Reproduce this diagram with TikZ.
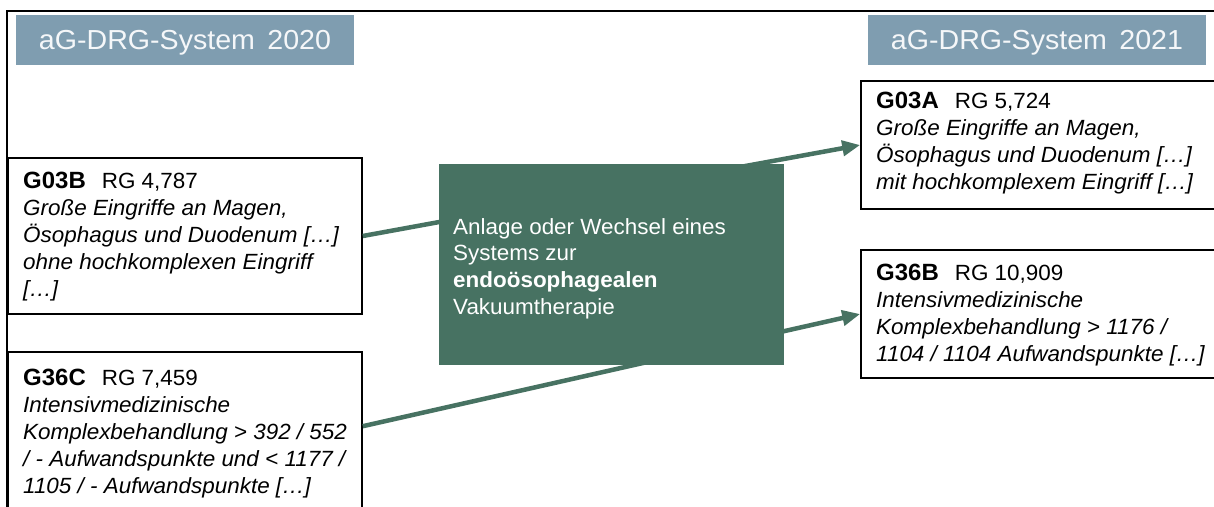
\documentclass[tikz,border=0pt]{standalone}
\usepackage{fontspec}
\setmainfont[FakeStretch=1.02]{Liberation Sans}
\newfontfamily\hdrfont[FakeStretch=1.04]{Liberation Sans}
\usetikzlibrary{arrows.meta,calc}
\definecolor{hdr}{RGB}{127,157,176}
\definecolor{grn}{RGB}{71,114,98}
\definecolor{hdrtxt}{RGB}{245,247,249}
\newcommand{\code}[1]{{\fontsize{23.5}{27}\selectfont\bfseries #1}}
\begin{document}
\begin{tikzpicture}[x=1pt,y=-1pt,
  box/.style={draw=black, line width=1.6pt, fill=white, inner sep=0pt},
  hdrbox/.style={fill=hdr, inner sep=0pt, text=hdrtxt, minimum width=338pt, minimum height=50pt,
    text height=24pt, text depth=6pt, font=\hdrfont\fontsize{27.5}{30}\selectfont},
  txt/.style={anchor=north west, inner sep=0pt, align=left, font=\fontsize{22}{27}\selectfont\itshape},
  midtxt/.style={anchor=north west, inner sep=0pt, align=left, text=white, font=\fontsize{22}{26.7}\selectfont},
  arr/.style={draw=grn, line width=4.5pt, -{Triangle[length=18pt,width=15pt]}},
]
\useasboundingbox (0,0) rectangle (1214,506);
\clip (0,0) rectangle (1214,506);
\fill[white] (0,0) rectangle (1214,506);
% outer frame
\draw[line width=1.6pt] (7,530) -- (7,11) -- (1230,11);
% headers
\node[hdrbox] (h1) at (185,40) {aG-DRG-System\hspace{0.45em}2020};
\node[hdrbox] (h2) at (1037,40) {aG-DRG-System\hspace{0.45em}2021};
% left boxes
\node[box, minimum width=354pt, minimum height=156pt] (g03b) at (185,236) {};
\node[txt] (g03bt) at (23,168) {\rule{0pt}{20pt}{\upshape\code{G03B}\hspace{16pt}RG 4,787}\\
Große Eingriffe an Magen,\\
Ösophagus und Duodenum […]\\
ohne hochkomplexen Eingriff\\
{[}…]};
\node[box, minimum width=354pt, minimum height=178pt] (g36c) at (185,441) {};
\node[txt] (g36ct) at (23,365) {\rule{0pt}{20pt}{\upshape\code{G36C}\hspace{16pt}RG 7,459}\\
Intensivmedizinische\\
Komplexbehandlung > 392 / 552\\
/ - Aufwandspunkte und < 1177 /\\
1105 / - Aufwandspunkte […]};
% right boxes
\node[box, minimum width=369pt, minimum height=128pt] (g03a) at (1045.5,145) {};
\node[txt] (g03at) at (876,88) {\rule{0pt}{20pt}{\upshape\code{G03A}\hspace{16pt}RG 5,724}\\
Große Eingriffe an Magen,\\
Ösophagus und Duodenum […]\\
mit hochkomplexem Eingriff […]};
\node[box, minimum width=369pt, minimum height=128pt] (g36b) at (1045.5,314) {};
\node[txt] (g36bt) at (876,260) {\rule{0pt}{20pt}{\upshape\code{G36B}\hspace{16pt}RG 10,909}\\
Intensivmedizinische\\
Komplexbehandlung > 1176 /\\
1104 / 1104 Aufwandspunkte […]};
% connectors
\draw[arr] (g03b.east) -- (g03a.west);
\draw[arr] ($(g36c.north east)+(0,75)$) -- (g36b.west);
% middle box
\node[fill=grn, inner sep=0pt, minimum width=345pt, minimum height=201pt] (mid) at (611.5,264.5) {};
\node[midtxt] (midt) at (453,214) {\rule{0pt}{20pt}Anlage oder Wechsel eines\\
Systems zur\\
\textbf{endoösophagealen}\\
Vakuumtherapie};
\end{tikzpicture}
\end{document}
